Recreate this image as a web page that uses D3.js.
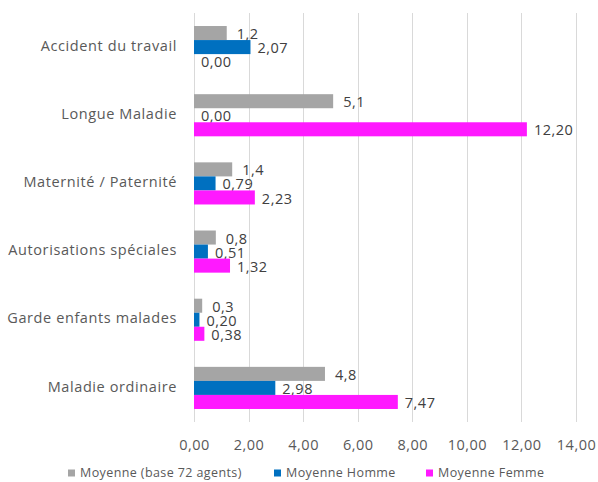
<!DOCTYPE html>
<html><head><meta charset="utf-8">
<script src="https://cdn.jsdelivr.net/npm/d3@7"></script>
<style>body{margin:0;background:#fff}svg{display:block}</style>
</head><body>
<svg id="c" width="598" height="482"></svg>
<script>
const categories = ["Accident du travail","Longue Maladie","Maternité / Paternité","Autorisations spéciales","Garde enfants malades","Maladie ordinaire"];
const seriesNames = ["Moyenne (base 72 agents)","Moyenne Homme","Moyenne Femme"];
const moyenne = [1.2, 5.1, 1.4, 0.8, 0.3, 4.8];
const homme = [2.07, 0.00, 0.79, 0.51, 0.20, 2.98];
const femme = [0.00, 12.20, 2.23, 1.32, 0.38, 7.47];
const decimals = [1, 2, 2];
const colors = ["#A5A5A5","#0070C0","#FF19FF"];
const xTicks = [0,2,4,6,8,10,12,14];

const series = [moyenne, homme, femme];
const svg = d3.select("#c");
const font = "'Open Sans', sans-serif";
const x = d3.scaleLinear().domain([0,14]).range([194,576]);
const y = d3.scaleBand().domain(categories).range([13,422]).paddingInner(0.382).paddingOuter(0.191);
const ys = d3.scaleBand().domain(seriesNames).range([0,y.bandwidth()]);

// grid
svg.append("g").selectAll("line").data(xTicks).join("line")
  .attr("x1",d=>Math.round(x(d))+0.5).attr("x2",d=>Math.round(x(d))+0.5)
  .attr("y1",13).attr("y2",422).attr("stroke","#D9D9D9").attr("stroke-width",1);

// x axis labels
const xa = svg.append("g").attr("transform","translate(0,422)")
  .call(d3.axisBottom(x).tickValues(xTicks).tickSize(0).tickPadding(18)
    .tickFormat(d=>d3.format(".2f")(d).replace(".",",")));
xa.select(".domain").remove();
xa.selectAll("text").attr("font-family",font).attr("font-size",14.5).attr("letter-spacing",0.5).attr("fill","#595959");

// y axis labels
const ya = svg.append("g").attr("transform","translate(194,0)")
  .call(d3.axisLeft(y).tickSize(0).tickPadding(17));
ya.select(".domain").remove();
ya.selectAll("text").attr("font-family",font).attr("font-size",14.5).attr("letter-spacing",0.6).attr("fill","#595959")
  .attr("dy","0.25em");

// bars
series.forEach((vals,si)=>{
  const g = svg.append("g");
  g.selectAll("rect").data(categories).join("rect")
    .attr("x",x(0)).attr("y",c=>y(c)+ys(seriesNames[si]))
    .attr("width",(c,i)=>x(vals[i])-x(0)).attr("height",ys.bandwidth())
    .attr("fill",colors[si]);
  g.selectAll("text").data(categories).join("text")
    .attr("x",(c,i)=>x(vals[i])+(si===0?10:7))
    .attr("y",c=>y(c)+ys(seriesNames[si])+ys.bandwidth()/2+1)
    .attr("dy","0.35em")
    .attr("font-family",font).attr("font-size",14.5).attr("letter-spacing",0.5).attr("fill","#404040")
    .text((c,i)=>vals[i].toFixed(decimals[si]).replace(".",","));
});

// legend
const legX = [68,274,426];
const lg = svg.append("g");
seriesNames.forEach((n,i)=>{
  lg.append("rect").attr("x",legX[i]).attr("y",469.5).attr("width",7).attr("height",7).attr("fill",colors[i]);
  lg.append("text").attr("x",legX[i]+12).attr("y",473).attr("dy","0.35em")
    .attr("font-family",font).attr("font-size",12.5).attr("letter-spacing",0.4).attr("fill","#595959").text(n);
});
</script>
</body></html>
